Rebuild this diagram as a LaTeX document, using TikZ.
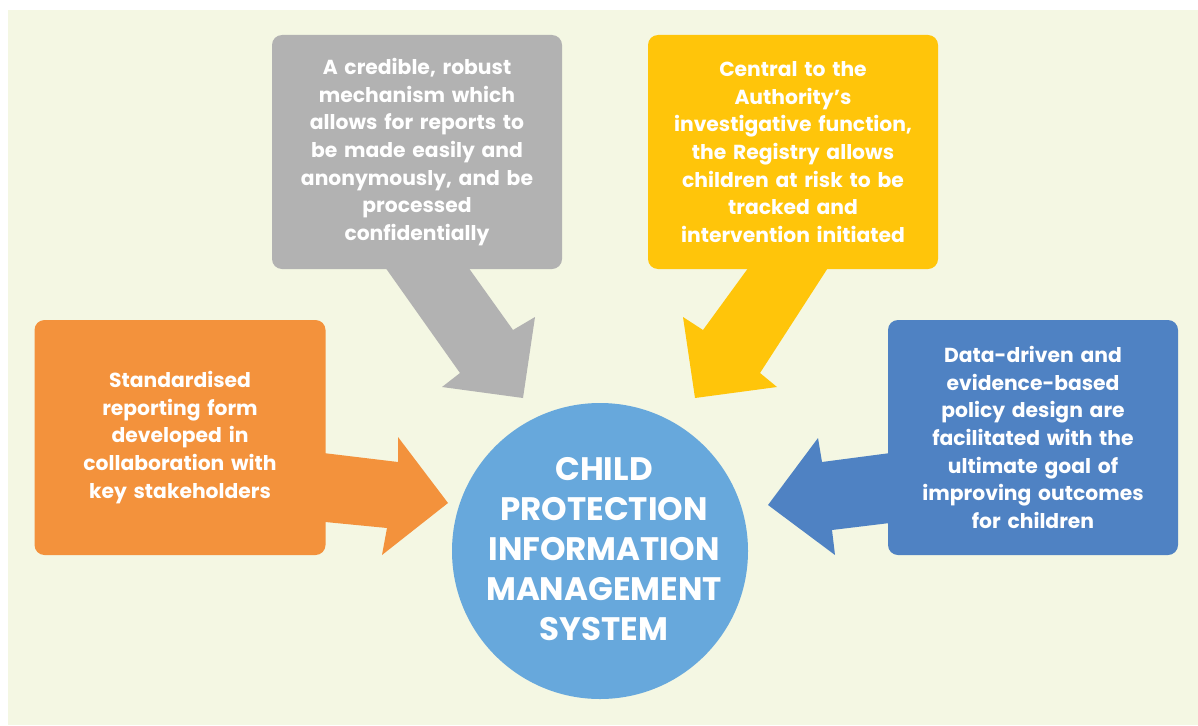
\documentclass[tikz,border=0pt]{standalone}
\usepackage{fontspec}
\setmainfont{Poppins}
\definecolor{bgcream}{HTML}{F4F7E3}
\definecolor{cgray}{HTML}{B2B2B2}
\definecolor{cyellow}{HTML}{FFC50A}
\definecolor{corange}{HTML}{F3923C}
\definecolor{cblue}{HTML}{4F82C3}
\definecolor{ccircle}{HTML}{67A8DC}
\tikzset{
  infobox/.style={rounded corners=10pt, minimum width=290pt, minimum height=234pt,
    text width=280pt, align=center, text=white, inner sep=0pt,
    font=\bfseries\fontsize{20.3}{27.7}\selectfont},
  hubcircle/.style={circle, fill=ccircle, minimum size=296pt, inner sep=0pt,
    text=white, align=center, font=\bfseries\fontsize{32.5}{40.2}\selectfont},
}
\begin{document}
\begin{tikzpicture}[x=1pt,y=-1pt]
\useasboundingbox (0,0) rectangle (1198,725);
\fill[white] (0,0) rectangle (1198,725);
\fill[bgcream] (8,10) rectangle (1198,725);
% arrows
\fill[cgray] (380,260) -- (460,373) -- (442,387) -- (523,398) -- (535,317) -- (513,330) -- (463,260) -- cycle;
\fill[cyellow] (754,260) -- (703,330) -- (683,317) -- (695,398) -- (777,387) -- (760,373) -- (833,260) -- cycle;
\fill[corange] (315,452) -- (398,462) -- (398,437) -- (448,503) -- (382,555) -- (387,528) -- (315,521) -- cycle;
\fill[cblue] (898,452) -- (822,462) -- (818,438) -- (768,505) -- (835,555) -- (832,530) -- (898,522) -- cycle;
% boxes
\node[infobox, fill=cgray] (gray) at (417,152) {A credible, robust\\mechanism which\\allows for reports to\\be made easily and\\anonymously, and be\\processed\\confidentially};
\node[infobox, fill=cyellow] (yellow) at (793,152) {Central to the\\Authority’s\\investigative function,\\the Registry allows\\children at risk to be\\tracked and\\intervention initiated};
\node[infobox, fill=corange, minimum width=291pt, minimum height=235pt] (orange) at (180,437.5) {Standardised\\reporting form\\developed in\\collaboration with\\key stakeholders};
\node[infobox, fill=cblue, minimum height=235pt] (blue) at (1033,437.5) {Data-driven and\\evidence-based\\policy design are\\facilitated with the\\ultimate goal of\\improving outcomes\\for children};
% hub
\node[hubcircle] (hub) at (600,551) {};
\node[text=white, align=center, font=\bfseries\fontsize{32.5}{40.2}\selectfont] (hubtext) at (604,549) {CHILD\\PROTECTION\\INFORMATION\\MANAGEMENT\\SYSTEM};
\end{tikzpicture}
\end{document}
